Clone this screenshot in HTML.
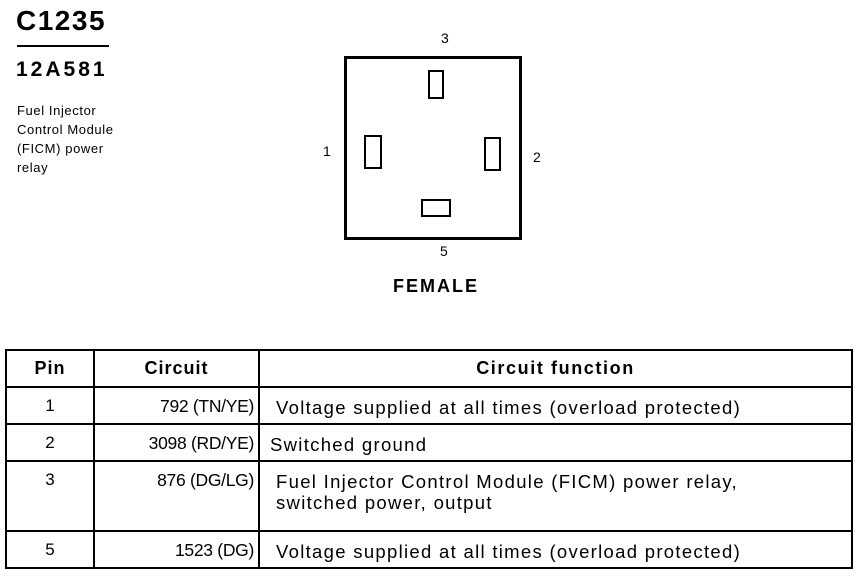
<!DOCTYPE html>
<html><head><style>
body{margin:0;width:858px;height:576px;background:#fff;position:relative;font-family:"Liberation Sans",Arial,sans-serif;color:#000;overflow:hidden}
.a{position:absolute;white-space:nowrap}
.p{position:absolute;border:2.5px solid #000;box-sizing:border-box}
table{position:absolute;left:5px;top:349px;width:848px;border-collapse:collapse;font-size:17px}
td{border:2px solid #000;padding:0 4px;vertical-align:top;white-space:nowrap}
.f{font-size:18.5px;letter-spacing:1.3px}
.c{font-size:17.5px;letter-spacing:-0.3px}
</style></head><body>
<div class="a" style="left:16px;top:5px;font-size:28px;font-weight:bold;letter-spacing:1.5px">C1235</div>
<div class="a" style="left:17px;top:45px;width:92px;height:2px;background:#000"></div>
<div class="a" style="left:16px;top:58px;font-size:21px;font-weight:bold;letter-spacing:3px">12A581</div>
<div class="a" style="left:17px;top:101px;font-size:13px;letter-spacing:0.6px;line-height:19px">Fuel Injector<br>Control Module<br>(FICM) power<br>relay</div>
<div class="p" style="left:344px;top:56px;width:178px;height:184px;border-width:3px"></div>
<div class="p" style="left:428px;top:70px;width:16px;height:29px"></div>
<div class="p" style="left:364px;top:135px;width:18px;height:34px"></div>
<div class="p" style="left:484px;top:137px;width:17px;height:34px"></div>
<div class="p" style="left:421px;top:199px;width:30px;height:18px"></div>
<div class="a" style="left:441px;top:30px;font-size:14px">3</div>
<div class="a" style="left:323px;top:143px;font-size:14px">1</div>
<div class="a" style="left:533px;top:149px;font-size:14px">2</div>
<div class="a" style="left:440px;top:243px;font-size:14px">5</div>
<div class="a" style="left:393px;top:276px;font-size:18px;font-weight:bold;letter-spacing:2px">FEMALE</div>
<table>
<tr style="height:37px;font-weight:bold;font-size:18px;letter-spacing:1px"><td style="width:78px;text-align:center;vertical-align:middle">Pin</td><td style="width:155px;text-align:center;vertical-align:middle">Circuit</td><td style="text-align:center;vertical-align:middle;letter-spacing:1.6px">Circuit function</td></tr>
<tr style="height:37px"><td style="text-align:center;padding-top:8px">1</td><td class="c" style="text-align:right;padding-top:8px">792 (TN/YE)</td><td class="f" style="padding-left:16px;padding-top:9px">Voltage supplied at all times (overload protected)</td></tr>
<tr style="height:37px"><td style="text-align:center;padding-top:8px">2</td><td class="c" style="text-align:right;padding-top:8px">3098 (RD/YE)</td><td class="f" style="padding-left:10px;padding-top:9px">Switched ground</td></tr>
<tr style="height:70px"><td style="text-align:center;padding-top:8px">3</td><td class="c" style="text-align:right;padding-top:8px">876 (DG/LG)</td><td class="f" style="padding-left:16px;padding-top:9px;line-height:21px">Fuel Injector Control Module (FICM) power relay,<br>switched power, output</td></tr>
<tr style="height:37px"><td style="text-align:center;padding-top:8px">5</td><td class="c" style="text-align:right;padding-top:8px">1523 (DG)</td><td class="f" style="padding-left:16px;padding-top:9px">Voltage supplied at all times (overload protected)</td></tr>
</table>
</body></html>
